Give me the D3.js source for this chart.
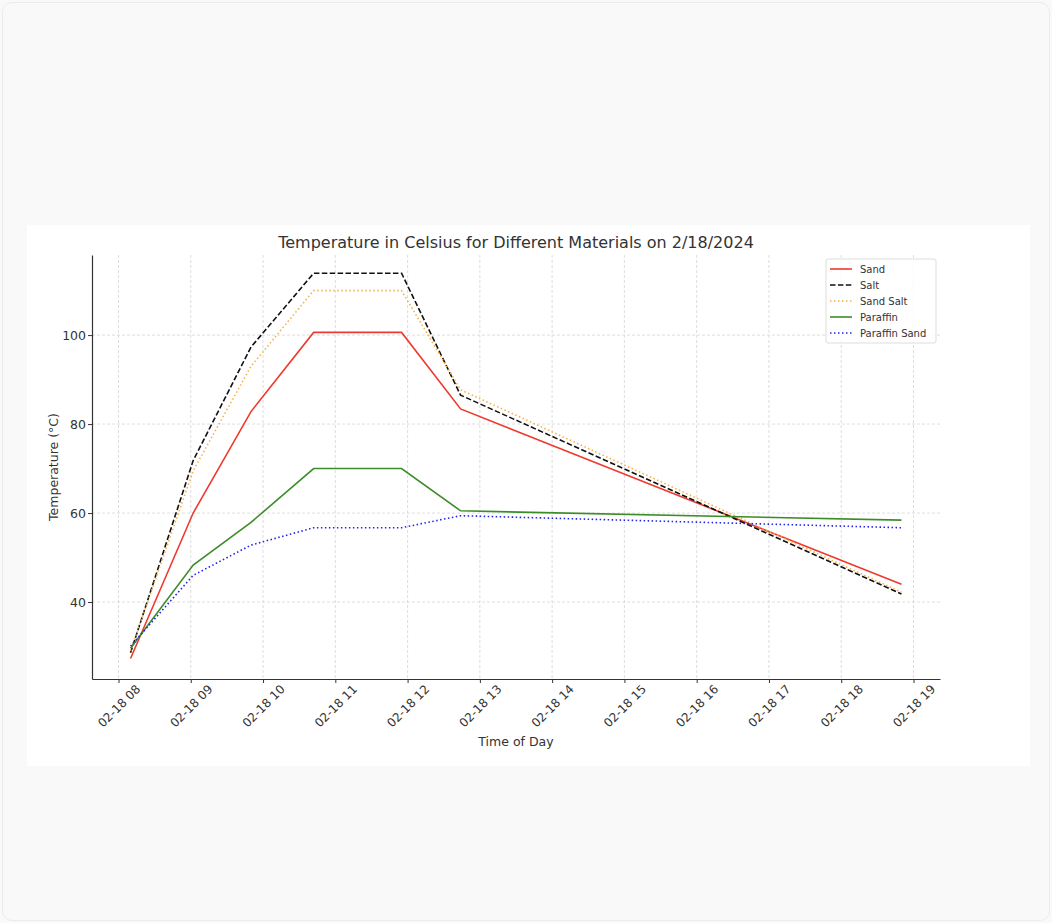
<!DOCTYPE html>
<html>
<head>
<meta charset="utf-8">
<script src="https://cdn.jsdelivr.net/npm/d3@7"></script>
<style>
  html, body { margin: 0; padding: 0; background: #f9f9f9; }
  #frame { position: absolute; left: 2px; top: 2px; width: 1046px; height: 917px;
           border: 1px solid #ececec; border-radius: 10px; background: #f9f9f9; }
  svg { position: absolute; left: 0; top: 0; }
  text { font-family: "DejaVu Sans", sans-serif; fill: #333; }
</style>
</head>
<body>
<div id="frame"></div>
<svg id="chart" width="1052" height="923"></svg>
<script>
// readings on 2/18/2024
const times = ["08:10", "09:02", "09:50", "10:42", "11:55", "12:44", "18:50"];
const sand = [27.3, 60.0, 82.8, 100.6, 100.6, 83.4, 44.0];
const salt = [28.6, 71.8, 97.3, 113.9, 113.9, 86.5, 41.8];
const sandSalt = [29.0, 69.5, 93.0, 110.0, 110.0, 87.7, 42.2];
const paraffin = [29.6, 48.3, 57.9, 70.0, 70.0, 60.5, 58.4];
const paraffinSand = [30.1, 46.0, 52.8, 56.7, 56.7, 59.4, 56.7];

const seriesNames = ["Sand", "Salt", "Sand Salt", "Paraffin", "Paraffin Sand"];
const seriesValues = [sand, salt, sandSalt, paraffin, paraffinSand];
const yTicks = [40, 60, 80, 100];

const styles = {
  "Sand": { color: "#ee3a2e", dash: null },
  "Salt": { color: "#111", dash: "5.5,2.4" },
  "Sand Salt": { color: "#f7b04a", dash: "1.5,2.5" },
  "Paraffin": { color: "#3d8c2a", dash: null },
  "Paraffin Sand": { color: "#2323ee", dash: "1.5,2.5" }
};

const parse = d3.timeParse("%Y-%m-%d %H:%M");
const dates = times.map(t => parse("2024-02-18 " + t));

const svg = d3.select("#chart");

// white card
svg.append("rect")
  .attr("x", 27).attr("y", 225).attr("width", 1003).attr("height", 541)
  .attr("fill", "#fff");

const pLeft = 92, pRight = 940, pTop = 255, pBottom = 679;

const x = d3.scaleTime()
  .domain([parse("2024-02-18 07:38"), parse("2024-02-18 19:22")])
  .range([pLeft, pRight]);
const y = d3.scaleLinear().domain([22.7, 118]).range([pBottom, pTop]);

const hourTicks = d3.timeHour.range(parse("2024-02-18 08:00"), parse("2024-02-18 19:01"));

// grid
svg.append("g").selectAll("line").data(hourTicks).enter().append("line")
  .attr("x1", d => x(d)).attr("x2", d => x(d))
  .attr("y1", pTop).attr("y2", pBottom)
  .attr("stroke", "#d6d6d6").attr("stroke-width", 0.8).attr("stroke-dasharray", "3,2");
svg.append("g").selectAll("line").data(yTicks).enter().append("line")
  .attr("x1", pLeft).attr("x2", pRight)
  .attr("y1", d => y(d)).attr("y2", d => y(d))
  .attr("stroke", "#d6d6d6").attr("stroke-width", 0.8).attr("stroke-dasharray", "3,2");

// axes
const xAxis = svg.append("g")
  .attr("transform", `translate(0,${pBottom})`)
  .call(d3.axisBottom(x).tickValues(hourTicks).tickFormat(d3.timeFormat("%m-%d %H")).tickSize(4).tickSizeOuter(0));
xAxis.select(".domain").attr("stroke", "#333").attr("stroke-width", 1.2);
xAxis.selectAll(".tick line").attr("stroke", "#333");
xAxis.selectAll(".tick text")
  .attr("font-size", 12).attr("fill", "#333")
  .attr("text-anchor", "middle")
  .attr("y", 0).attr("dy", "0.35em")
  .attr("transform", "translate(0,27) rotate(-45)");

const yAxis = svg.append("g")
  .attr("transform", `translate(${pLeft},0)`)
  .call(d3.axisLeft(y).tickValues(yTicks).tickSize(4).tickSizeOuter(0));
yAxis.select(".domain").attr("stroke", "#333").attr("stroke-width", 1.2);
yAxis.selectAll(".tick line").attr("stroke", "#333");
yAxis.selectAll(".tick text").attr("font-size", 12.5).attr("fill", "#333").attr("x", -6);

// lines
const line = d3.line().x((d, i) => x(dates[i])).y(d => y(d));
seriesNames.forEach((name, k) => {
  svg.append("path")
    .datum(seriesValues[k])
    .attr("d", line)
    .attr("fill", "none")
    .attr("stroke", styles[name].color)
    .attr("stroke-width", 1.6)
    .attr("stroke-dasharray", styles[name].dash);
});

// title and labels
svg.append("text").attr("x", (pLeft + pRight) / 2).attr("y", 248)
  .attr("text-anchor", "middle").attr("font-size", 16)
  .text("Temperature in Celsius for Different Materials on 2/18/2024");
svg.append("text").attr("x", (pLeft + pRight) / 2).attr("y", 746)
  .attr("text-anchor", "middle").attr("font-size", 12.5)
  .text("Time of Day");
svg.append("text")
  .attr("transform", `translate(58,${(pTop + pBottom) / 2}) rotate(-90)`)
  .attr("text-anchor", "middle").attr("font-size", 12.5)
  .text("Temperature (°C)");

// legend
const legend = svg.append("g").attr("transform", "translate(826,259)");
legend.append("rect").attr("width", 110).attr("height", 84).attr("rx", 2)
  .attr("fill", "#fff").attr("fill-opacity", 0.8).attr("stroke", "#ddd");
seriesNames.forEach((name, k) => {
  const ly = 10 + k * 16;
  legend.append("line").attr("x1", 4).attr("x2", 26).attr("y1", ly).attr("y2", ly)
    .attr("stroke", styles[name].color).attr("stroke-width", 1.6)
    .attr("stroke-dasharray", styles[name].dash);
  legend.append("text").attr("x", 34).attr("y", ly + 3.5)
    .attr("font-size", 10).text(name);
});
</script>
</body>
</html>
